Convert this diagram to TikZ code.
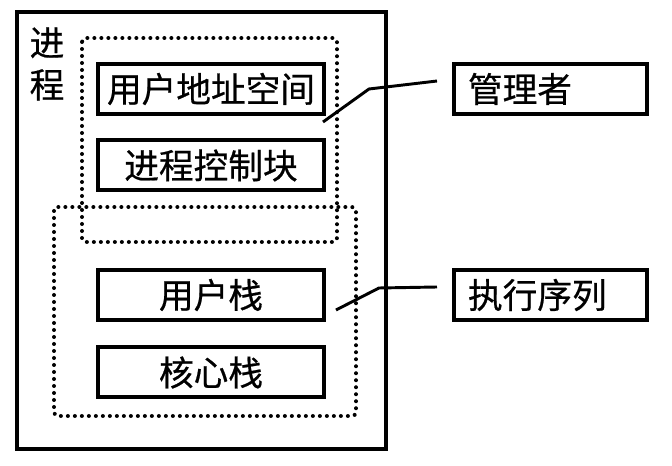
\documentclass[tikz,border=0pt]{standalone}
\usepackage{fontspec}
\newfontfamily\cjk[FakeBold=0.6]{Noto Sans CJK SC}
\begin{document}
\begin{tikzpicture}[x=0.75pt,y=-0.75pt,
  lbl/.style={font=\cjk\fontsize{26}{31.5}\selectfont},
  solidbox/.style={draw, line width=3pt, inner sep=0pt, minimum width=226*0.75pt, minimum height=50*0.75pt, lbl},
  sidebox/.style={draw, line width=3pt, inner xsep=10.5pt, inner ysep=0pt, text width=123.75pt, align=left, minimum height=50*0.75pt, lbl},
  dotbox/.style={draw, line width=3pt, dash pattern=on 0pt off 5.25pt, line cap=round, rounded corners=3pt},
  conn/.style={draw, line width=2.2pt}]
\useasboundingbox (0,0) rectangle (672,466);
\fill[white] (0,0) rectangle (672,466);
% outer process box
\draw[line width=3pt] (17,12) rectangle (386,449);
\node[lbl, align=center, inner sep=0pt] (proc) at (47,64) {进\\程};
% dotted groups
\draw[dotbox] (82,38) rectangle (337,242);
\draw[dotbox] (54,207) rectangle (356,416);
% inner boxes
\node[solidbox] (uas) at (211,89) {用户地址空间};
\node[solidbox] (pcb) at (211,165.5) {进程控制块};
\node[solidbox] (ustk) at (211,295) {用户栈};
\node[solidbox] (kstk) at (211,372.5) {核心栈};
% side boxes
\node[sidebox] (mgr) at (550.5,89) {管理者};
\node[sidebox] (exec) at (550.5,295) {执行序列};
% connectors
\coordinate (mA) at (323,122);
\coordinate (mB) at (369,89);
\coordinate (mC) at (437,81);
\coordinate (eA) at (336,310);
\coordinate (eB) at (379,288);
\coordinate (eC) at (437,287);
\draw[conn] (mA) -- (mB) -- (mC);
\draw[conn] (eA) -- (eB) -- (eC);
\end{tikzpicture}
\end{document}
